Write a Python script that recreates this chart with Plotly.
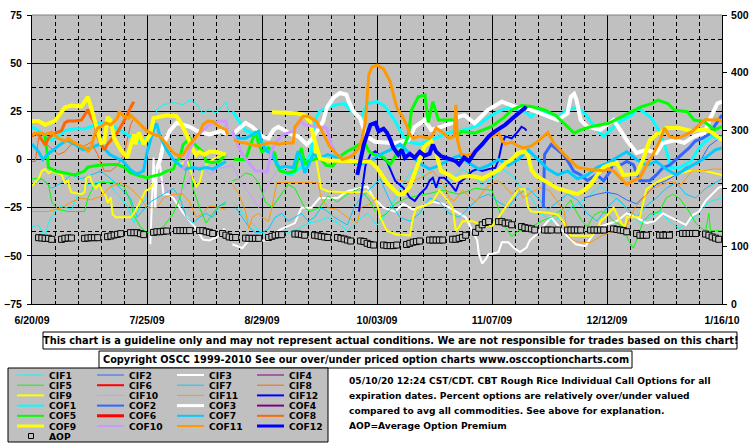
import pandas as pd
import plotly.graph_objects as go

START = pd.Timestamp("2009-06-20")
END = pd.Timestamp("2010-01-16")

Y_TICKS_LEFT = [-75, -50, -25, 0, 25, 50, 75]
Y_TICKS_RIGHT = [0, 100, 200, 300, 400, 500]

# ---------------- series data (day offset from 6/20/09, percent value) ----------------
CIF1_D = [[0, 2, 4, 5, 7, 9, 12, 14, 17, 20, 23, 25, 27, 29, 31, 33, 35],
          [37, 38, 40, 43, 46, 48, 50, 52, 54, 56, 58, 59, 60],
          [61, 63, 65, 67, 69, 72, 75, 78, 81, 84, 87, 90, 93, 96, 99, 102, 105, 107, 110, 113, 116, 119, 122,
           125, 128, 131, 134, 137, 140, 143, 146, 149, 152, 155, 158, 161, 164, 167, 170, 173, 176, 179, 182,
           185, 188, 191, 194, 197, 200, 203, 206, 210]]
CIF1_V = [[-35, -34, -40, -33, -27, -24, -26, -18, -13, -12, -11, -16, -20, -24, -33, -24, -20],
          [20, 26, 28.5, 29.5, 28.5, 31, 29, 24, 26, 24, 28, 30, 24],
          [-22, -25, -30, -33, -37, -40, -38, -38, -36, -33, -32, -30, -33, -37, -32, -28, -34, -30, -22, -12,
           -5, -8, -12, -15, -10, -5, -8, -13, -10, -5, -8, -15, -20, -28, -32, -30, -25, -22, -18, -14, -18,
           -22, -28, -33, -30, -27, -32, -36, -32, -28, -22, -20]]

CIF2_D = [[168, 172, 175, 178, 181, 184, 187, 190, 193, 196, 199, 203, 206, 210]]
CIF2_V = [[-20, -18, -17, -18, -21, -23, -18, -13, -11, -8, -4, -2, 7, 12]]

CIF3_D = [[36, 36.5, 37, 37.5, 38, 39, 39.5, 40, 41.6, 43, 45.7, 48, 50, 52, 54, 57, 58.5, 59, 60],
          [61, 64, 66, 70, 72, 74, 76, 80, 82, 85, 87.5, 90, 93, 96, 99, 102, 104, 107, 110.5, 113, 116, 119,
           122, 125, 129, 132, 134, 135.5, 136, 137, 138, 139, 140, 142, 143, 145, 146.5, 148.5, 150.5, 151.5,
           153.5, 156.5, 158, 159.5, 162.5, 165.5, 168.5, 169.5, 172.5, 175, 178, 181, 184, 187, 189.5, 192,
           194.5, 197, 199, 201, 203, 205, 207, 209, 210]]
CIF3_V = [[-44, -20, 1, -25, -5, -3, -12, -18, -18, -20, -27, -32, -36, -41.5, -42, -39.6, -36, -38, -40],
          [-44, -46, -42, -42, -42, -38, -36, -33, -25, -25, -20, -20, -20, -16.4, -15, -14, -20, -25, -27, -23,
           -26, -24, -22, -23, -27, -30, -37, -42, -49, -54, -52, -49, -49, -48, -43, -43, -45.7, -48, -45.7,
           -42, -39, -33, -30, -33, -39, -44, -45, -42, -35, -33.6, -32, -28, -30, -33, -32, -28, -30, -32, -34,
           -29, -27, -21.5, -18, -14.6, -14]]

CIF5_D = [[0, 3, 5, 6, 8, 11, 14, 16, 17, 19, 21, 25, 28, 30, 31, 33, 35, 37, 40, 43, 45, 47, 48, 49, 51, 53,
           55, 57, 59],
          [61, 63, 65, 67, 69, 71, 73, 75, 78, 80, 83, 84.5, 87.5, 90, 93, 96, 99.8, 103, 104.5],
          [106, 108, 110.5, 114, 120, 125, 130, 135, 140, 142, 144, 146, 148, 150, 155, 158, 162, 164, 165, 167,
           169, 171, 173, 175, 177, 180, 181.5, 183, 184, 186, 188, 191, 193, 195, 197, 200, 202, 204, 205, 206,
           206.5, 208, 210]]
CIF5_V = [[-10, -10, -13, -22, -26, -27, -27, -27, -20, -13, -12, -12, -14, -22, -29, -35, -38, -37, -35, -28,
           -20, -5, 0, -15, -25, -33, -28, -24, -23],
          [-11, -10, -7, -8, -12, -22, -25, -20, -13, -15, -25, -27, -25, -19, -22, -18, -15, -22, -27],
          [-30, -28, -23, -20, -18, -16, -18, -15, -16, -25, -35, -40, -37, -37, -32, -30, -25, -21, -25, -31,
           -35, -29, -27, -28, -32, -35, -42, -46, -42, -32, -28.5, -27, -20, -18, -20, -27, -33, -36, -37, -28,
           -37, -37, -37]]

CIF7_D = [[0, 3, 6, 9, 12, 15, 18, 21, 24, 27, 30, 32, 34, 36, 38, 40, 43, 45, 47, 49, 51, 53, 55, 57, 59],
          [62, 64, 66, 68, 70, 72, 74, 76, 78, 80, 82, 84, 86, 88, 90, 92, 94, 96, 98, 100, 103, 106, 108, 110,
           112, 115, 118, 121, 124, 127, 130, 133, 136, 139, 142, 145, 148, 151, 154, 157, 160, 163, 166, 169,
           172, 175, 178, 181, 184, 187, 190, 193, 196, 199, 202, 205, 208, 210]]
CIF7_V = [[-13, -10, -15, -12, -8, -10, -8, -6, -10, -15, -20, -30, -26, -22, -20, -18, -15, -20, -30, -33,
           -30, -28, -30, -24, -22],
          [-25, -30, -35, -38, -38, -36, -30, -28, -32, -30, -28, -32, -30, -25, -27, -30, -32, -34, -25, -20,
           -15, -10, -18, -25, -30, -32, -28, -20, -22, -28, -30, -25, -20, -18, -22, -25, -18, -15, -20, -26,
           -22, -18, -21, -28, -32, -25, -20, -25, -30, -24, -20, -15, -12, -18, -20, -15, -12, -10]]

CIF8_D = [[0, 1, 2, 3, 4, 5, 7, 8, 10, 12, 14, 16, 18, 20, 21, 22, 24, 26, 28, 29, 30, 31]]
CIF8_V = [[-1, -1, 11, 10, 9, 7, 4, 2.6, 4, 8, 7, 7, 9, 2.6, -2, -6, -6, -3, 2.6, 10, 18, 21.5]]

CIF9_D = [[0, 2, 3, 4, 5, 6, 7.5, 9, 10, 11, 11.5, 12, 15, 16, 16.5, 17.5, 18.5, 19.5, 20.5, 21.5, 22.5, 23, 24,
           24.5, 25.5, 27, 29, 30, 31, 32, 33, 34.5, 36, 37],
          [44, 46, 47, 48, 49, 50, 51, 52, 54, 56, 58],
          [85, 86, 87, 88, 90, 95, 100, 102, 104, 105, 106, 108, 111, 113, 115, 116, 117, 119, 122, 124, 126,
           128, 129, 130, 131, 134, 137, 140, 142, 144, 146, 148, 150, 151, 152, 155, 157, 160, 162, 163, 164,
           167, 170, 172, 173, 174.5, 177, 179.5, 180.5, 181, 183, 185, 187, 189, 191, 195, 200, 205, 210]]
CIF9_V = [[-13.8, -10, -6, -5, -7, -6, -7, -7.8, -12, -11, -15, -17, -18, -17, -9.5, -8.6, -13, -15, -12.5,
           -17, -19, -22.4, -19.8, -28.4, -30, -30, -30, -30, -28, -25, -21.5, -16.4, -15, -12],
          [-3, -2, 0, -4, -10, -14, -12, -5, -1, 1, 2],
          [10, 5, -5, -15, -16.5, -17, -17, -16.5, -20, -23, -30, -37, -39, -39, -39.5, -30, -25, -24.5, -21.5,
           -16, -20, -25, -37, -35, -32, -32, -34, -34.5, -30, -25, -20, -15.5, -15.5, -25, -27, -27.5, -27.6,
           -28.5, -33, -37, -39.6, -39.6, -39.6, -37, -32, -30, -25, -33.6, -34.5, -30, -30, -30, -15.5, -13,
           -11, -8, -6, -6, -8]]

CIF10_D = [[38, 40, 42, 44, 46, 48, 50, 52, 54, 56, 59, 61, 63, 65, 67, 69, 71, 73, 75, 78, 80, 83, 85]]
CIF10_V = [[-10, -12, -18, -20, -15, -10, -5, -3, -8, -5, -4, -3, -10, -15, -20, -25, -15, -10, -5, -6, -6,
            -2, -3]]

CIF11_D = [[0, 5, 9, 12, 15, 18, 21, 24, 27, 30, 33, 35, 38, 40, 43, 46, 48, 50, 52, 54, 57, 59],
           [61, 63, 65, 66, 67, 69, 70, 72, 73, 74.5, 80, 85, 87, 88, 90, 93, 96, 99, 100, 103, 105],
           [110, 115, 120, 122, 125, 127, 128.5, 131, 133, 135, 138, 141.5, 143.5, 146, 148, 149.5, 152, 154.6,
            157.5, 159.5, 162, 163, 164.7, 167, 170, 173, 177, 180, 183.5, 186, 189, 191.6, 194.5, 197.5, 200.8,
            204, 207, 210]]
CIF11_V = [[-27, -27, -25, -22, -20, -21, -19, -14, -12, -15, -20, -25, -25, -20, -18, -18, -22, -30, -28,
            -24, -25, -26],
           [-13, -18, -27, -36, -30, -28, -30, -32, -25, -12, -12, -12, -12, -20, -25, -26, -30, -33, -25, -23,
            -20],
           [-10, -12, -8, -6, -12, -20, -21.5, -16, -19, -22, -15, -11, -13, -18, -15, -20, -17, -14.6, -16,
            -21, -27, -39, -42, -43, -43, -40, -37, -38, -25, -20, -15, -13, -11.5, -13, -6, -6, -5, -5]]

CIF12_D = [[99.5, 100.5, 101.5, 103, 104.5, 106, 108, 110.5, 113, 115, 116.5, 118, 120, 121, 122, 123, 124,
            125.5, 127.5, 129, 130, 132, 134, 135.5, 137, 139, 141, 142, 143, 144, 146, 148, 149, 150, 150.5]]
CIF12_V = [[-27, -15, -3, 2.6, 4.3, 1.7, -1, -11, -14.6, -19.8, -21.5, -18, -14.6, -11, -9.5, -14.6, -9.5,
            -9.5, -13, -16.4, -12, -9.5, -6, -5, -6, -5, -4.3, 0, 7.8, 12, 11, 14.7, 17, 16, 15]]

COF1_D = [[0, 2, 4, 6, 8, 10, 13, 16, 18, 20, 22, 24, 26, 28, 30, 32, 34, 36],
          [61, 63, 65, 67, 69, 71, 73, 75, 77, 79, 81, 83, 85, 86, 87.5, 90, 92.7, 95, 97.8, 100, 102, 105,
           107.4, 110.5, 113, 115, 118, 121, 124, 127, 130, 133, 136, 139, 142, 145, 148, 150, 152, 154, 157,
           160, 163, 166, 168.5, 170, 172, 174, 176, 179, 182.5, 184.5, 188.5, 191.5, 193, 194.5, 197, 200.5,
           203, 205, 207, 209, 210]]
COF1_V = [[17, 15, 12, 10, 12, 15, 16, 16, 17, 19, 19, 18, 16, 14, 12, 9, 10, 12],
          [25, 20, 15, 14, 11, 8, 3, -3, -7, -8, -5, -3, 4, 20, 25, 27, 28.4, 29, 24, 21, 29, 30, 27.6, 20, 12,
           9, 8, 10, 12, 14, 15, 16, 18, 22, 25, 27, 26, 25, 22, 26, 24, 22, 26, 27, 23.4, 20, 15, 12, 15, 19.8,
           23, 26.7, 21.5, 13, 5, -4.3, -4.3, -1, 6, 9.5, 12, 11, 12]]

COF2_D = [[155.6, 156, 158, 160, 161.7, 163.5, 164.8, 167, 169, 171.8, 174, 176, 177, 179, 181, 183, 185, 188,
           190, 192, 194, 196, 197.7, 200, 201.8, 204, 206, 208, 210]]
COF2_V = [[-25, 2.6, 7.8, 5, 2.6, -2, -6, -8, -11, -7.8, -11, -6, -1, -3, -1, -2.6, -11, -11, -8, -4.3, -3, 0,
           2.6, 6, 9.5, 11, 13, 18, 23]]

COF3_D = [[38, 39, 40, 41, 42, 44, 46, 48, 50, 52, 54, 56, 58, 59],
          [61.5, 63, 65, 67, 69, 70, 72, 73.5, 75, 77, 79, 81, 83.6, 85, 86.5, 88.6, 89.7, 91.7, 93.7, 95.7, 96.7,
           97.8, 99.8, 100.8, 101.8, 104.4, 107, 110.5, 114.5, 116.5, 119.5, 121.5, 124.6, 127.6, 129.6, 131.6,
           134.7, 136.7, 138.7, 143, 147, 152, 158, 160, 163, 164, 165, 165.7, 167, 169, 173, 177, 179, 181,
           184, 187, 190, 192, 195.7, 198.5, 201.5, 204.6, 206.6, 208.6, 210]]
COF3_V = [[-5, 0, 8, 12, 15, 19, 18, 17, 15, 14, 13, 14, 15, 13],
          [13.8, 16, 19, 17, 14, 12, 11, 15.5, 17, 15, 13, 12, 7.8, 10, 14, 19.8, 26.7, 32, 34.6, 33.6, 29, 25,
           21.5, 17, 12, 9.2, 9, 8.4, 10, 17, 20.5, 15.4, 17, 18.8, 22, 23, 18.8, 22, 25.7, 30, 27.4, 25.7, 22.2,
           20.5, 24, 32.5, 34, 31, 20.5, 17, 15.4, 20.5, 15.4, 10, 3.4, 5, 3.4, 8.6, 10, 8.6, 12, 13.7, 22, 29,
           30]]

COF5_D = [[3.5, 4, 4.5, 5, 7, 10, 13, 16, 17, 18.5, 20, 24, 26, 28, 30, 33, 35, 37, 39, 41, 43, 44, 45, 46, 48,
           50, 52, 53, 55, 57, 59],
          [61.5, 65, 66, 67, 68, 69, 70, 72, 74, 74.5, 75.5, 78, 80, 81, 82, 83, 84, 87.5, 89.5, 91.5, 94, 96, 98,
           99.5, 101.5, 102.5, 104, 105, 107, 109, 111, 113, 114.5, 115.5, 117.6, 119.6, 120.6, 122, 123.7,
           128.7, 129.2, 130.7, 134.7, 139.8, 143.8, 146, 149, 152, 156, 159.3, 162, 165, 167, 170, 175.5,
           181.5, 185.5, 188.5, 190.5, 193.5, 195.5, 199.5, 201.5, 204.6, 207.6, 210]]
COF5_V = [[12, 12, 5, -4, -6, -7, -8, -6, -4, -3.5, -3, -2.6, -2.6, -4, -7, -8.6, -9.5, -8.5, -7.8, -6, -5,
           -0.9, 0.9, 7.8, 11, 7, 4, -0.9, -1.7, -1, 2.6],
          [0, 0, 5, 10, 14.7, 8, 4, 6, 3, -2.6, -6, -7, -6, 1, 6, -2.6, -1, 1, -3, -3.5, 2, 4.3, 6, 7.8, 7.8, 4.3,
           2.6, 2.6, 1, -2.6, 3, 6, 12, 25.7, 32.6, 33.5, 19.2, 30, 20.5, 20.5, 12, 14.5, 13.7, 17, 22, 25.7, 28,
           27.5, 25.7, 23, 18.8, 13.7, 15.4, 17, 18.8, 24, 27.4, 29, 30.8, 29, 25.7, 24.8, 20.5, 19.7, 15.4, 17]]

COF7_D = [[0, 2, 3.3, 5, 8, 10.5, 13, 15.6, 18, 20.7, 23.7, 25.5, 27.8, 29.8, 31.8, 33.9, 35, 36.9, 37.9, 39, 41,
           43, 45, 46.7, 49, 51, 53, 55, 57, 59],
          [62, 63, 65, 67, 69, 70, 71.5, 73, 74.5, 75.5, 77, 79.5, 81, 82, 83, 85.6, 88, 90, 92, 94.8, 97, 99.8,
           102.9, 106, 109, 112, 115, 118, 121, 124, 127, 130, 133, 136, 139, 142, 145, 148, 151, 154, 157, 160,
           163, 166, 169, 172, 175, 178, 181, 184, 187, 190, 193, 196, 199, 202, 205, 208, 210]]
COF7_V = [[8, 4, 0, 3, 7, 10, 8, 5, 6, 8, 2.6, 1, -1, -5, -7.6, -6, 3.6, 15, 18.7, 12, 5, 0, -3, -5, -4, -5, -4,
           -5, -3, -1],
          [12, 11, 11, 13, 14.7, 8, 4.3, 3, -2.6, -4.3, -3.5, -4.3, 4.3, 0, -7, 2.6, 1, 2.6, 1.5, -0.9, -0.9,
           -2.6, -0.9, 2.6, 5, 8, 3, -2, -5, -3, 0, 2, -2, -5, -3, 0, -3, 0, 5, 0, -5, -8, -6, -10, -8, -4, -2, 1,
           4, 0, -3, -1, -5, -8, -5, -2, 1, 5, 6]]

COF8_D = [[0, 1, 2, 3, 4, 5, 6, 7.5, 9, 10, 11, 13, 15, 16, 17, 18, 19, 20, 21, 22, 23, 24, 25, 26, 27, 28, 29, 30,
           31]]
COF8_V = [[12, 13.5, 13, 10, 7.5, 11, 12.5, 14, 15, 19, 20, 20, 20.5, 23, 26, 22, 19, 12, 8, 5, 8, 10, 12, 14,
           17, 20, 23, 27, 30]]

COF9_D = [[0, 2, 4, 5.5, 7, 10, 12, 15, 16, 17, 18, 19, 20, 21, 22, 23, 24, 25, 27, 29, 30, 31, 31.5, 32.5, 34,
           36, 37, 39, 41, 44, 45, 47, 48, 49, 50, 51, 52.5, 54, 56, 57, 59],
          [73, 76, 80.5, 83, 84.6, 86, 87.6, 90, 95, 100, 103, 105, 108, 111.5, 113, 115, 117, 119.5, 121.5, 123,
           124.5, 127, 129, 131, 133, 135, 137, 139, 140, 142, 144, 146, 148, 150, 151, 152, 153.5, 156, 158,
           160, 162, 164, 166, 168, 170, 172, 174, 176, 178, 180, 182, 184, 186, 188, 190, 191.5, 193, 195, 197,
           199, 201, 203, 205, 207, 209, 210]]
COF9_V = [[20, 20, 18, 19, 20, 27, 28, 27.5, 30, 32.5, 27, 20, 14.5, 8.5, 9, 22, 20, 11, 5, 1, 7, 13, 8, 14, 8,
           13, 21.5, 22.5, 23, 22.5, 20, 13, 9, 5, 2.5, 4, 2.5, 4, 4, 3.5, 2.5],
          [24.5, 24.5, 24, 23, 19.6, 10, 0.6, -0.5, -0.5, -0.5, -1, -4.3, -12, -18, -18, -14, -4, 7, 9.5, 3,
           -6, -8, -10.4, -9, -8.6, -9, -10, -8, -7, -5.5, -2, 0, 3.4, 4, 2, -5.5, -8.6, -11, -13, -15, -16, -17,
           -18, -16, -13, -8, -4, -2.6, -1.7, -8, -7.5, -7.5, 0, 10, 13, 14, 16.4, 16.4, 16.4, 15.5, 14.7, 15.5,
           15.5, 14, 11, 10]]

COF10_D = [[46, 48, 50, 51.8, 53.9, 56.9, 59, 59.5],
           [61, 62, 64, 66, 68, 70, 71.5, 73, 74.5, 76.5, 79.5, 81.6, 83, 86.6, 89.7, 91, 92.7, 94]]
COF10_V = [[-5, 5, 12, 14.7, 18, 19.8, 20, 15],
           [15, 10, 2.6, -2, -6, -6, -6.5, 5, 9.5, 13, 14.7, 19.8, 18, 17, 16.4, 8, 2.6, 1.5]]

COF11_D = [[0, 2, 4, 6, 8, 10, 11, 12, 14, 16, 17, 18, 19, 20, 21, 22.5, 24, 26, 26.5, 28, 29.5, 30, 32, 33.5,
            35, 37, 39, 41, 43, 45, 46, 48, 50, 51, 52, 53.5, 55, 57, 59, 59.5],
           [61.5, 63, 65, 67, 68.5, 70, 72, 74, 75, 77, 79.5, 80, 82.5, 84, 86.5, 88.5, 90.5, 92.5, 94.5, 96, 97.5,
            99.5, 100.5, 101.5, 102, 102.5, 103.5, 105, 107, 109, 110, 111, 112.5, 114, 115, 116, 118, 121, 122,
            123, 125, 127, 128.5, 129, 129.5, 130.5, 132, 134, 136, 138, 140, 142, 143, 144, 146, 148, 149.5,
            152, 154, 157, 159, 161, 163, 166, 169, 172, 174, 175.5, 177, 179, 181, 183, 185, 187, 189, 191,
            192.5, 194, 196, 198, 201, 203, 205, 207, 209, 210]]
COF11_V = [[13, 14, 13, 14, 11, 9.5, 11, 9.5, 7.8, 6, 4.3, 6, 13, 16.4, 17, 19, 18, 21.5, 25, 22.4, 21.5, 23,
            19.8, 17, 14.7, 13, 12, 7.8, 3.5, 1.7, 2.6, 7.8, 12, 13.8, 18, 20, 19.8, 17, 15.5, 13],
           [10.3, 9, 8.5, 7.5, 7, 7.8, 8.6, 8.6, 7.8, 8.6, 8.6, 17, 22.4, 22.4, 20, 14, 7, 3, 0, 0.9, 2, 6, 11, 20,
            33, 44, 48, 49, 47, 40.5, 33.6, 27, 23, 18, 13, 11, 12, 11, 13, 16.4, 14, 11, 12, 28.4, 10, 3, 2, 3, 6,
            10, 12, 14, 10, 8, 9, 7, 6, 7, 9.5, 14, 8, 4.3, 1, -4, -5, -5.5, -6, -5, -6, -9.5, -13, -11, -9.5, -3,
            2.6, 9.5, 16.4, 12, 11, 12, 14.7, 18, 20.7, 20.5, 20.7, 19.8]]

COF12_D = [[99, 100, 101, 102, 103, 104.5, 105.5, 107, 108, 109, 110, 111.5, 112.5, 113.5, 115, 116.5, 118,
            119.5, 121, 122, 123, 124.5, 127, 129, 130, 131.5, 133, 134, 135, 137, 139, 141, 144, 146, 148,
            150, 150.5]]
COF12_V = [[-8, 0, 7.8, 13, 18, 19, 14.7, 16, 14, 10.5, 6, 2.6, 5, 0.9, 3, 0.9, 4, 2, 3, 7.8, 4, 1.7, 0, -0.9,
            -2.6, 1, -0.9, 2, 4.3, 7.8, 12, 14.7, 18, 21, 24, 26.7, 26]]

# Average option premium (right axis), one value per trading day 6/22/09 - 1/15/10
AOP_HOLIDAYS = ["2009-07-03", "2009-09-07", "2009-11-26", "2009-12-25", "2010-01-01"]
AOP_V = [114.7, 114.2, 113.6, 113.6, 111.9,
         111.9, 113.6, 114.2, 114.2,
         113.6, 114.2, 114.7, 114.7, 114.7,
         116.5, 117.6, 119.4, 120.5, 121.7,
         123.4, 123.4, 123.4, 121.7, 120,
         124, 125, 125, 125.8, 126.3,
         127, 127, 127, 127, 127,
         127, 127, 125, 124, 122,
         122, 119, 116, 115, 115,
         114, 113.6, 113.6, 113.6, 113.6,
         115, 117, 119, 120, 120,
         121, 121, 120, 119,
         119, 118, 117, 116, 115,
         115, 113.6, 112.5, 110.7, 109,
         109, 108, 105, 103, 102,
         102, 101, 101, 101, 102,
         103, 105, 107, 108, 109,
         110.7, 110.7, 110.7, 110.7, 110.7,
         112, 112, 113.6, 115, 119,
         124, 131, 137, 141, 142.5,
         142.5, 142.5, 140, 140, 137,
         134, 132, 131, 130, 128,
         128, 128, 128, 128,
         128, 128, 128, 128, 128,
         128, 128, 128, 128, 128,
         130, 129, 128, 127, 125,
         122, 119, 119, 119,
         119, 119, 119, 119,
         122, 122, 122, 122, 122,
         121, 119, 116, 114, 112]

NAMES = ["CIF%d" % i for i in range(1, 13)] + ["COF%d" % i for i in range(1, 13)]
BASE_COLORS = ["#00FFFF", "#3366FF", "#FFFFFF", "#800080", "#00FF00", "#FF0000",
               "#00CCFF", "#FF6600", "#FFFF00", "#CC99FF", "#FF9900", "#0000FF"]

SERIES = {
    "CIF1": (CIF1_D, CIF1_V), "CIF2": (CIF2_D, CIF2_V), "CIF3": (CIF3_D, CIF3_V),
    "CIF5": (CIF5_D, CIF5_V), "CIF7": (CIF7_D, CIF7_V), "CIF8": (CIF8_D, CIF8_V),
    "CIF9": (CIF9_D, CIF9_V), "CIF10": (CIF10_D, CIF10_V), "CIF11": (CIF11_D, CIF11_V),
    "CIF12": (CIF12_D, CIF12_V),
    "COF1": (COF1_D, COF1_V), "COF2": (COF2_D, COF2_V), "COF3": (COF3_D, COF3_V),
    "COF5": (COF5_D, COF5_V), "COF7": (COF7_D, COF7_V), "COF8": (COF8_D, COF8_V),
    "COF9": (COF9_D, COF9_V), "COF10": (COF10_D, COF10_V), "COF11": (COF11_D, COF11_V),
    "COF12": (COF12_D, COF12_V),
}

FONT = "Liberation Sans, Arial, sans-serif"
WIDE_FONT = "DejaVu Sans, Verdana, sans-serif"

# ---------------- geometry helpers (pixel -> paper) ----------------
L, R, T, B = 32, 722, 15, 304
W, H = 755, 446


def pxx(x):
    return (x - L) / (R - L)


def pxy(y):
    return (B - y) / (B - T)


def style(name):
    idx = int(name[3:])
    color = BASE_COLORS[idx - 1]
    special = idx in (3, 6, 9, 12)
    if name.startswith("CIF"):
        return color, (2 if special else 1), (2 if special else 1)
    return color, (4 if special else 3), (3 if special else 2)


fig = go.Figure()

for name in NAMES:
    if name not in SERIES:
        continue
    dsegs, vsegs = SERIES[name]
    xs, ys = [], []
    for d, v in zip(dsegs, vsegs):
        xs += list(START + pd.to_timedelta(d, unit="D")) + [None]
        ys += list(v) + [None]
    color, w, _ = style(name)
    fig.add_trace(go.Scatter(x=xs, y=ys, mode="lines", name=name,
                             line=dict(color=color, width=w), connectgaps=False,
                             hoverinfo="skip", showlegend=False))

aop_dates = pd.bdate_range("2009-06-22", "2010-01-15")
aop_dates = aop_dates[~aop_dates.isin(pd.to_datetime(AOP_HOLIDAYS))]
fig.add_trace(go.Scatter(x=aop_dates, y=AOP_V, mode="markers", name="AOP", yaxis="y2",
                         marker=dict(symbol="square", size=6, color="#C0C0C0",
                                     line=dict(color="black", width=1)),
                         hoverinfo="skip", showlegend=False))

DAY_MS = 86400000
tickfont = dict(family=FONT, size=10.5, color="black", weight="bold")

fig.update_layout(
    width=W, height=H, autosize=False,
    margin=dict(l=L, r=W - R, t=T, b=H - B, pad=0),
    paper_bgcolor="white", plot_bgcolor="#C0C0C0",
    showlegend=False,
    xaxis=dict(type="date", range=[START, END], tick0=START, dtick=35 * DAY_MS,
               tickformat="%-m/%d/%y", tickfont=tickfont, ticks="inside", ticklen=4,
               tickcolor="black", showgrid=True, gridcolor="black", gridwidth=1,
               showline=True, linecolor="black", linewidth=1, zeroline=False,
               automargin=False, ticklabelstandoff=6,
               minor=dict(tick0=START, dtick=7 * DAY_MS, showgrid=True, gridcolor="black",
                          griddash="4px,3px", gridwidth=1, ticks="inside", ticklen=3,
                          tickcolor="black")),
    yaxis=dict(range=[-75, 75], tickvals=Y_TICKS_LEFT, ticks="outside", ticklen=4,
               tickcolor="black", tickfont=dict(family=FONT, size=10.5, color="black", weight="bold"),
               showgrid=True, gridcolor="black", gridwidth=1, zeroline=False,
               showline=True, linecolor="black", linewidth=1, automargin=False,
               ticklabelstandoff=3,
               minor=dict(dtick=12.5, tick0=0, showgrid=True, gridcolor="black",
                          griddash="4px,3px", gridwidth=1)),
    yaxis2=dict(range=[0, 500], tickvals=Y_TICKS_RIGHT, overlaying="y", side="right",
                ticks="outside", ticklen=4, tickcolor="black",
                tickfont=dict(family=FONT, size=10.5, color="black", weight="bold"),
                showgrid=False, zeroline=False, showline=True, linecolor="black",
                linewidth=1, automargin=False, ticklabelstandoff=2),
)

shapes = []
annotations = []

# top border of plot area
shapes.append(dict(type="line", xref="paper", yref="paper", x0=0, x1=1, y0=1, y1=1,
                   line=dict(color="#808080", width=1)))


def box(x0, y0, x1, y1, fill):
    shapes.append(dict(type="rect", xref="paper", yref="paper", x0=pxx(x0), x1=pxx(x1),
                       y0=pxy(y1), y1=pxy(y0), fillcolor=fill,
                       line=dict(color="black", width=1), layer="above"))


def text(x, y, s, size, xanchor="left", family=WIDE_FONT):
    annotations.append(dict(xref="paper", yref="paper", x=pxx(x), y=pxy(y), text=s,
                            showarrow=False, xanchor=xanchor, yanchor="middle",
                            font=dict(family=family, size=size, color="black", weight="bold")))


box(43, 332, 737, 349, "white")
text(390, 340.5, "This chart is a guideline only and may not represent actual conditions. "
                 "We are not responsible for trades based on this chart!", 9.8, "center")
box(99, 351, 632, 368, "white")
text(365.5, 359.5, "Copyright OSCC 1999-2010 See our over/under priced option charts "
                   "www.osccoptioncharts.com", 9.75, "center")

# legend box
box(8, 368, 328, 442, "#C0C0C0")
for i, name in enumerate(NAMES):
    r, c = divmod(i, 4)
    yy = 375 + r * 10.2
    x0 = 17 + c * 80
    color, _, lw = style(name)
    shapes.append(dict(type="line", xref="paper", yref="paper", x0=pxx(x0), x1=pxx(x0 + 27),
                       y0=pxy(yy), y1=pxy(yy), line=dict(color=color, width=lw), layer="above"))
    text(x0 + 30, yy, name, 9.2)
shapes.append(dict(type="rect", xref="paper", yref="paper", x0=pxx(28.5), x1=pxx(33.5),
                   y0=pxy(438.5), y1=pxy(433.5), fillcolor="#C0C0C0",
                   line=dict(color="black", width=1), layer="above"))
text(47, 436.3, "AOP", 9.2)

NOTE_LINES = ["05/10/20 12:24 CST/CDT. CBT Rough Rice Individual Call Options for all",
              "expiration dates. Percent options are relatively over/under valued",
              "compared to avg all commodities. See above for explanation.",
              "AOP=Average Option Premium"]
for k, line in enumerate(NOTE_LINES):
    text(347, 381 + k * 15, line, 9.1)

fig.update_layout(shapes=shapes, annotations=annotations)
fig.write_html("out.html", config={"displayModeBar": False},
               post_script="document.body.style.margin='0';document.body.style.overflow='hidden';")
